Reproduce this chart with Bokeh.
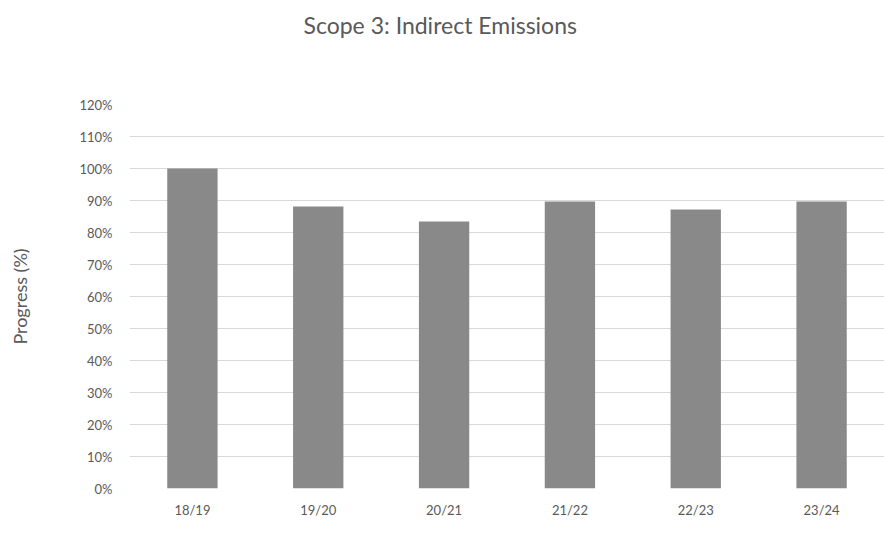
from bokeh.plotting import figure
from bokeh.models import FixedTicker, PrintfTickFormatter, ColumnDataSource, Range1d, Title
from bokeh.embed import file_html
from bokeh.resources import INLINE

years = ["18/19", "19/20", "20/21", "21/22", "22/23", "23/24"]
progress = [100.0, 88.1, 83.4, 89.7, 87.2, 89.7]
y_ticks = list(range(0, 121, 10))
title_text = "Scope 3: Indirect Emissions"

FONT = "Lato"
TXT = "#595959"

src = ColumnDataSource(dict(x=years, top=progress))

p = figure(x_range=years, y_range=Range1d(0, 120), width=884, height=534,
           output_backend="svg", toolbar_location=None,
           min_border_left=129, min_border_right=0, min_border_top=104, min_border_bottom=46)
p.vbar(x="x", top="top", width=0.4, source=src, color="#898989", line_color=None)

p.title.text = ""
# spacer between title and plot area, then the title itself
p.add_layout(Title(text=" ", text_font_size="1px", standoff=63), "above")
p.add_layout(Title(text=title_text, align="left", offset=174, standoff=0,
                   text_font=FONT, text_font_size="23px", text_font_style="normal",
                   text_color=TXT), "above")

p.outline_line_color = None
p.xgrid.grid_line_color = None
p.ygrid.grid_line_color = "#d9d9d9"
p.ygrid.grid_line_width = 1

p.yaxis.ticker = FixedTicker(ticks=y_ticks)
p.yaxis.formatter = PrintfTickFormatter(format="%d%%")
p.yaxis.axis_label = "Progress (%)"
p.yaxis.axis_label_text_font = FONT
p.yaxis.axis_label_text_font_style = "normal"
p.yaxis.axis_label_text_font_size = "18px"
p.yaxis.axis_label_text_color = TXT
p.yaxis.axis_label_standoff = 45

for ax in (p.xaxis, p.yaxis):
    ax.axis_line_color = None
    ax.major_tick_line_color = None
    ax.minor_tick_line_color = None
    ax.major_label_text_font = FONT
    ax.major_label_text_font_size = "13px"
    ax.major_label_text_color = TXT
p.yaxis.major_label_standoff = 11
p.xaxis.major_label_standoff = 7

open("out.html", "w").write(file_html(p, INLINE))
